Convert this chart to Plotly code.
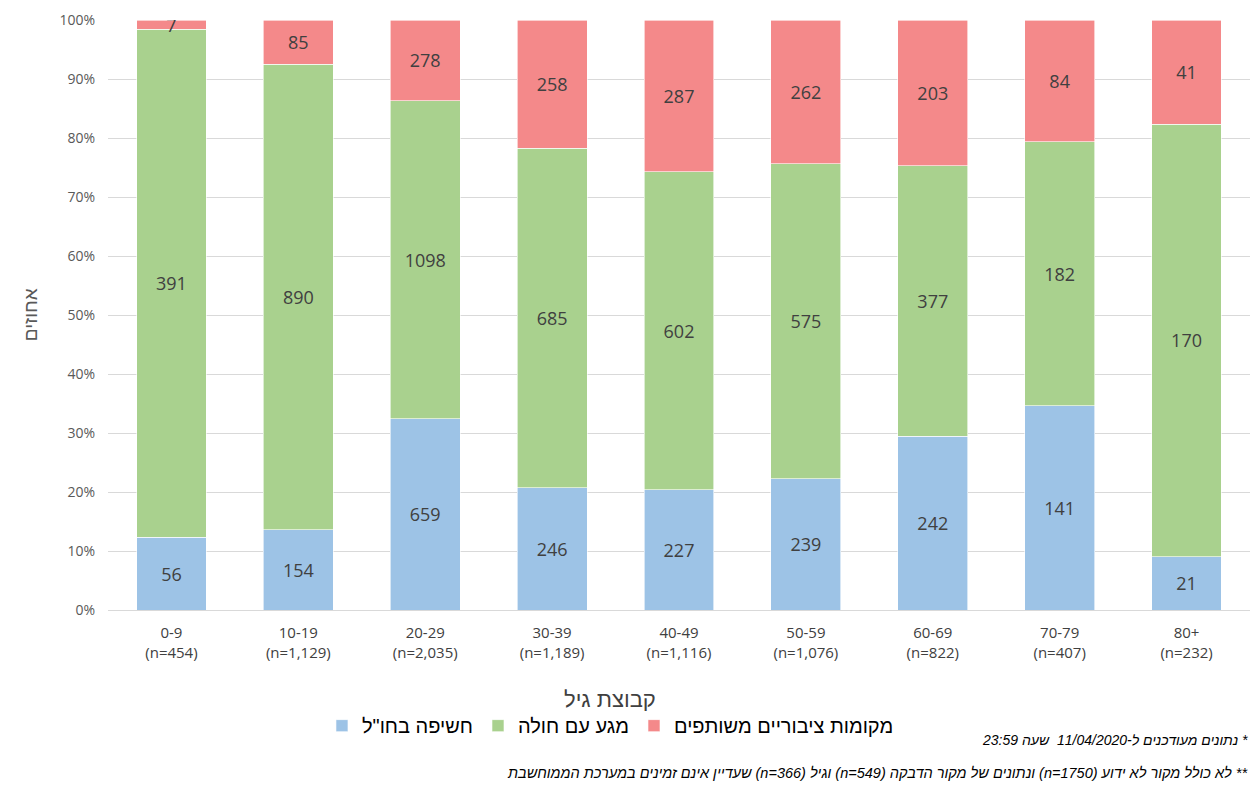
import plotly.graph_objects as go

age_groups = ["0-9", "10-19", "20-29", "30-39", "40-49", "50-59", "60-69", "70-79", "80+"]
group_n = ["454", "1,129", "2,035", "1,189", "1,116", "1,076", "822", "407", "232"]
abroad = [56, 154, 659, 246, 227, 239, 242, 141, 21]
contact = [391, 890, 1098, 685, 602, 575, 377, 182, 170]
public = [7, 85, 278, 258, 287, 262, 203, 84, 41]

series_names = ["חשיפה בחו\"ל", "מגע עם חולה", "מקומות ציבוריים משותפים"]
series_values = [abroad, contact, public]
series_colors = ["#9DC3E6", "#A9D18E", "#F4898A"]

tick_text = [f"{a}<br>(n={n})" for a, n in zip(age_groups, group_n)]

RLE = "\u202B"
PDF = "\u202C"
foot1 = "* נתונים מעודכנים ל-11/04/2020  שעה 23:59"
foot2 = "** לא כולל מקור לא ידוע (n=1750) ונתונים של מקור הדבקה (n=549) וגיל (n=366) שעדיין אינם זמינים במערכת הממוחשבת"

fig = go.Figure()
for name, vals, col in zip(series_names, series_values, series_colors):
    fig.add_trace(go.Bar(
        x=age_groups, y=vals, name=name,
        marker=dict(color=col, line=dict(color="white", width=0.6)),
        text=[str(v) for v in vals], texttemplate="%{text}",
        textposition="inside", insidetextanchor="middle", constraintext="none",
        textfont=dict(family="Open Sans, sans-serif", size=18, color="#404040"),
        textangle=0,
    ))

fig.update_layout(
    barmode="stack", barnorm="percent", bargap=0.45,
    width=1253, height=785,
    margin=dict(l=108, r=3, t=20, b=175),
    plot_bgcolor="white", paper_bgcolor="white",
    font=dict(family="Liberation Sans, sans-serif", color="#595959"),
    showlegend=True,
    legend=dict(orientation="h", x=0.44, xanchor="center", y=-0.196, yanchor="middle",
                font=dict(size=20, color="#000000", family="Liberation Sans, sans-serif"),
                traceorder="normal", itemwidth=30, tracegroupgap=0),
    xaxis=dict(tickmode="array", tickvals=age_groups, ticktext=tick_text,
               tickfont=dict(size=15, family="Open Sans, sans-serif", color="#404040"),
               showgrid=False, showline=False, ticks="", ticklabelstandoff=12),
    yaxis=dict(range=[0, 100], dtick=10, ticksuffix="%",
               tickfont=dict(size=14, family="Open Sans, sans-serif", color="#595959"),
               showgrid=True, gridcolor="#D9D9D9", gridwidth=1,
               zeroline=True, zerolinecolor="#D9D9D9", zerolinewidth=1,
               showline=False, ticks="", ticklabelstandoff=12),
    annotations=[
        dict(text="קבוצת גיל", xref="paper", yref="paper", x=0.44, y=-0.152,
             xanchor="center", yanchor="middle", showarrow=False,
             font=dict(size=22, color="#404040")),
        dict(text="אחוזים", xref="paper", yref="paper", x=-0.068, y=0.5,
             xanchor="center", yanchor="middle", showarrow=False, textangle=-90,
             font=dict(size=19, color="#595959")),
        dict(text=RLE + "<i>" + foot1 + "</i>" + PDF, xref="paper", yref="paper", x=1.0, y=-0.22,
             xanchor="right", yanchor="middle", showarrow=False,
             font=dict(size=14, color="#000000")),
        dict(text=RLE + "<i>" + foot2 + "</i>" + PDF, xref="paper", yref="paper", x=1.0, y=-0.276,
             xanchor="right", yanchor="middle", showarrow=False,
             font=dict(size=14.5, color="#000000")),
    ],
)

fig.write_html("out.html", config={"displayModeBar": False},
               post_script="document.body.style.margin='0';")
